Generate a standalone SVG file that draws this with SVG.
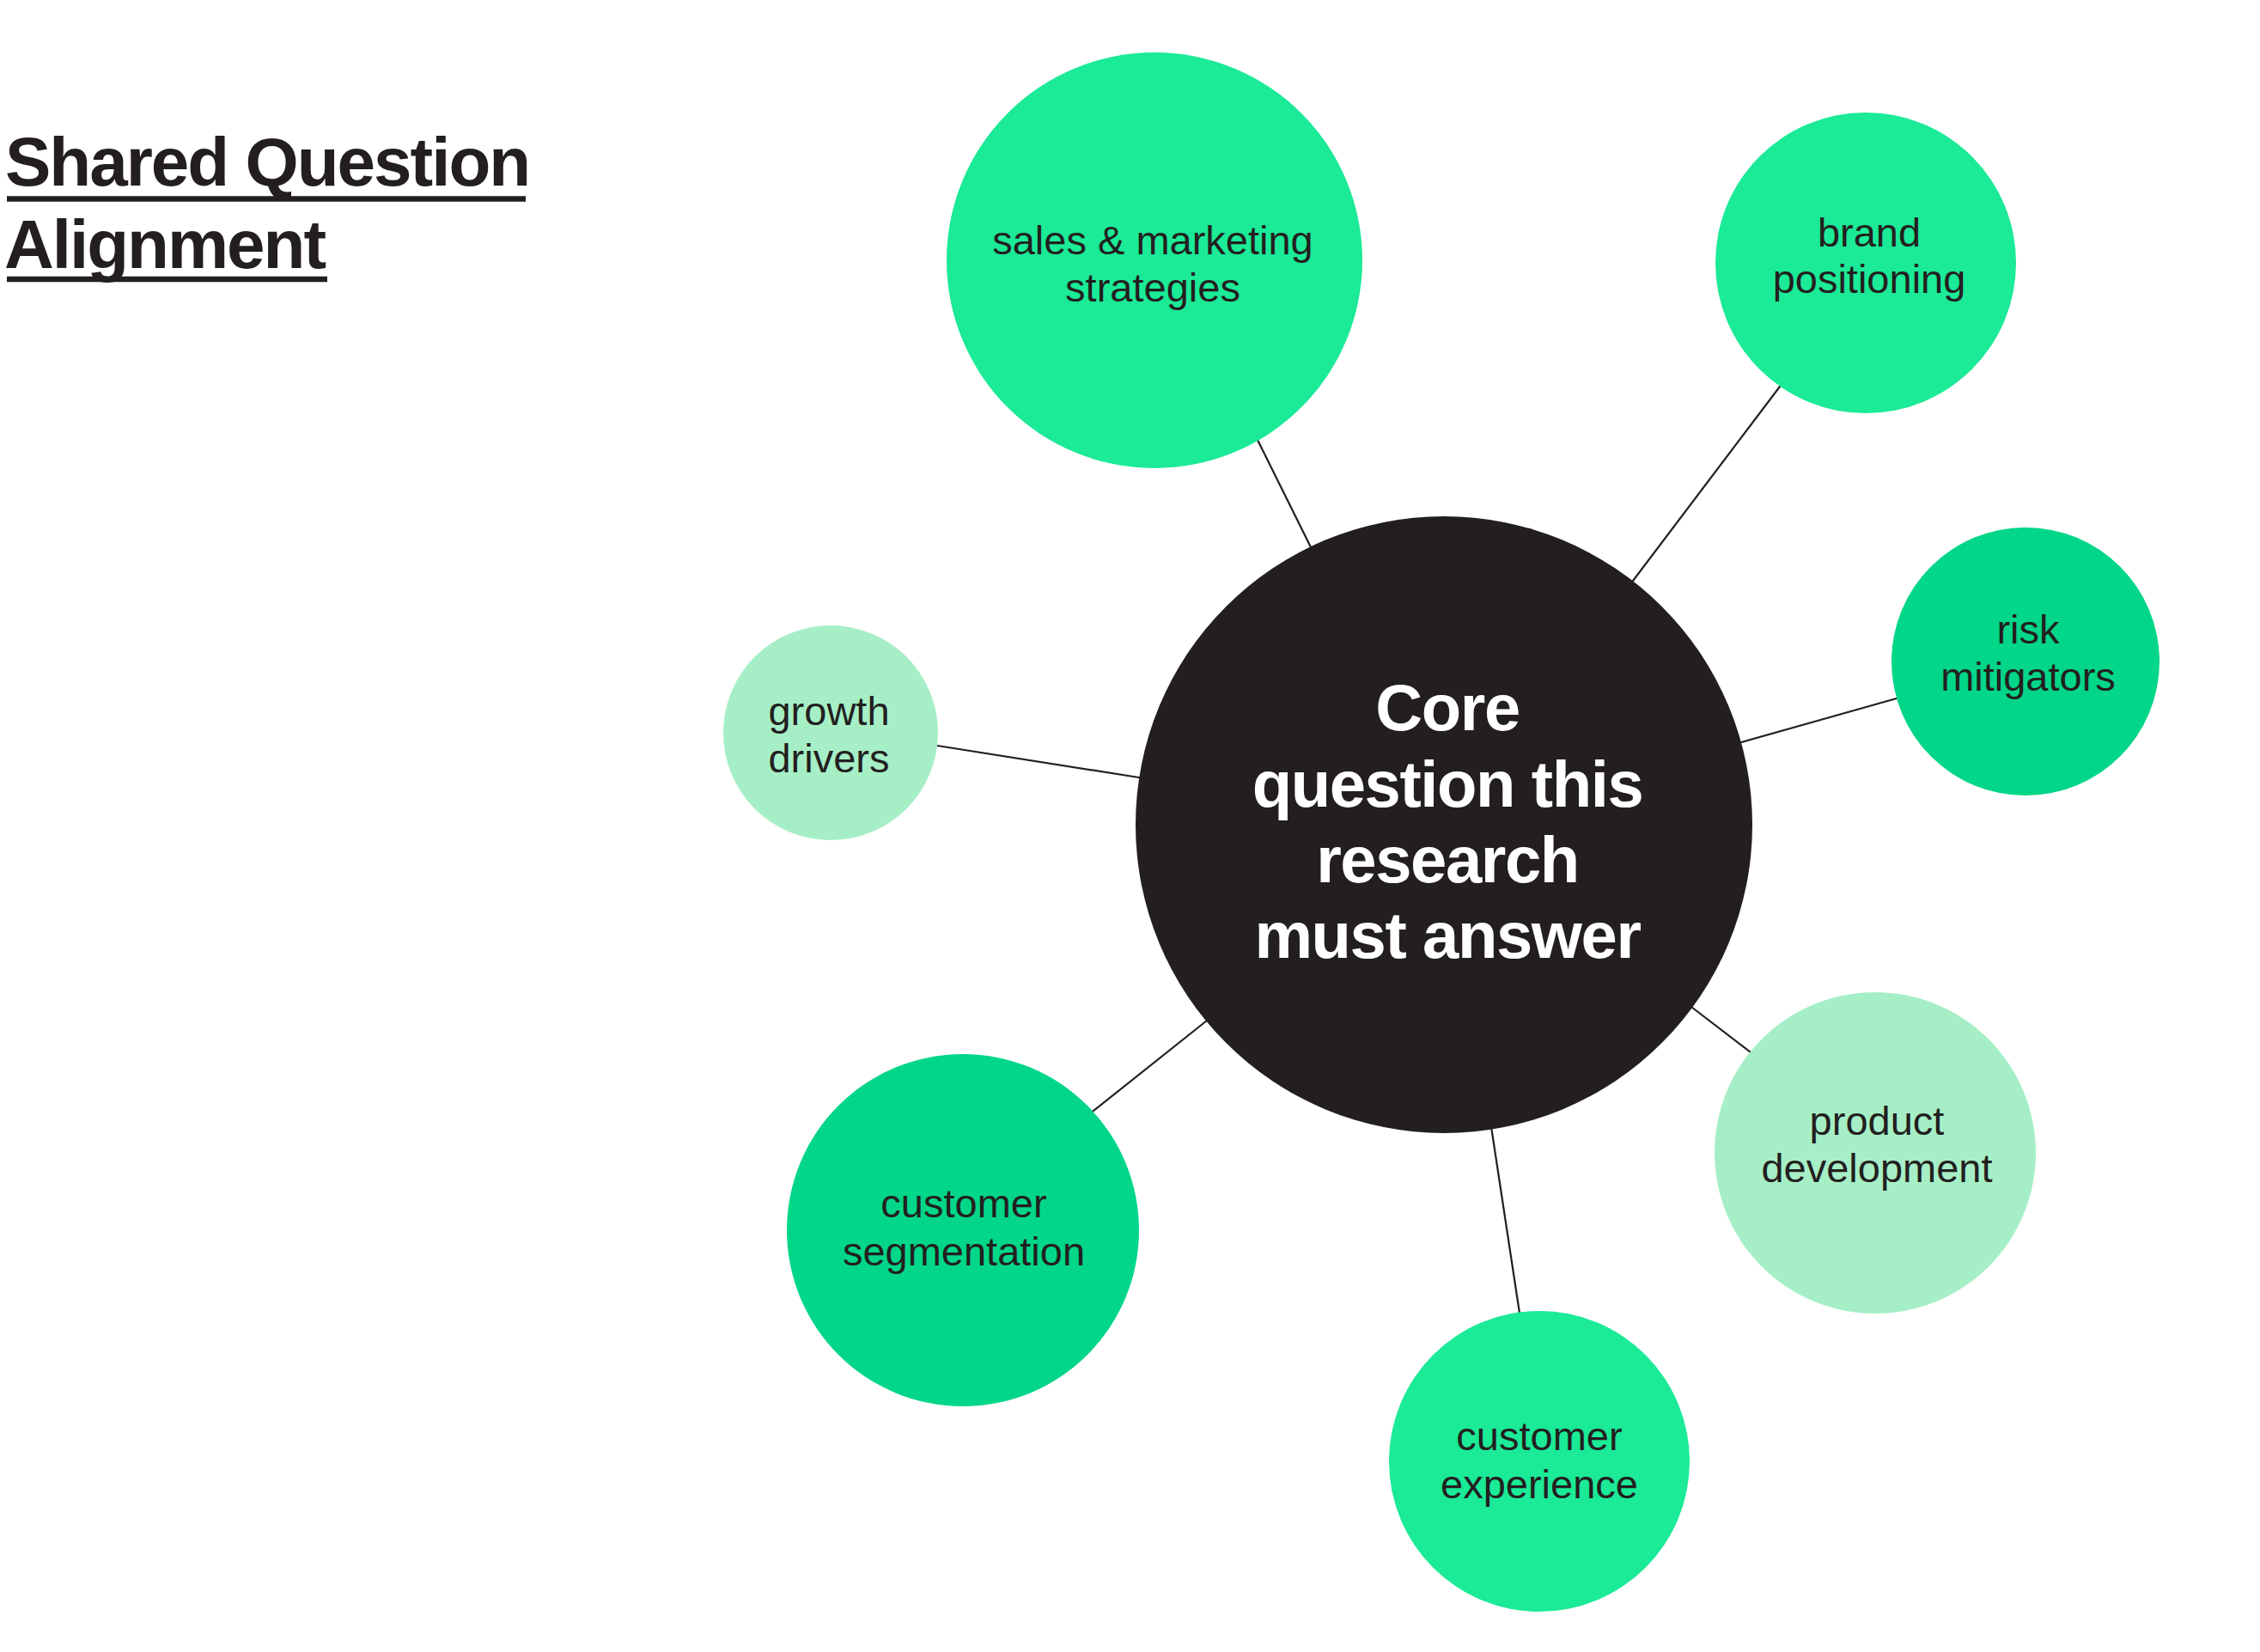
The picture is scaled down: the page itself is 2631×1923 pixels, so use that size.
<svg xmlns="http://www.w3.org/2000/svg" width="2631" height="1923" viewBox="0 0 2631 1923">
<style>
  .title { font-family: "Liberation Sans", Arial, sans-serif; font-weight: bold; font-size: 80px; fill: #231F20; letter-spacing: -2px; }
  .uline { stroke: #231F20; stroke-width: 6.5; }
  .conn { stroke: #231F20; stroke-width: 2.2; fill: none; }
  .core { fill: #231F20; }
  .bright { fill: #1BEA97; }
  .mid { fill: #02D688; }
  .light { fill: #A6EFC6; }
  .label { font-family: "Liberation Sans", Arial, sans-serif; font-size: 47px; fill: #231F20; text-anchor: middle; }
  .corelabel { font-family: "Liberation Sans", Arial, sans-serif; font-weight: bold; font-size: 76px; fill: #FFFFFF; text-anchor: middle; letter-spacing: -1.4px; }
</style>
<rect width="2631" height="1923" fill="#FFFFFF"/>

<g id="title">
  <text class="title" x="6" y="216">Shared Question</text>
  <line class="uline" x1="8" y1="231.5" x2="612" y2="231.5"/>
  <text class="title" x="5" y="312">Alignment</text>
  <line class="uline" x1="8" y1="325" x2="381" y2="325"/>
</g>

<g id="connectors">
  <line class="conn" x1="1458" y1="500" x2="1530" y2="645"/>
  <line class="conn" x1="2078" y1="442" x2="1895" y2="684"/>
  <line class="conn" x1="2020" y1="866" x2="2215" y2="811"/>
  <line class="conn" x1="1965" y1="1169" x2="2042" y2="1228"/>
  <line class="conn" x1="1735" y1="1305" x2="1770" y2="1535"/>
  <line class="conn" x1="1410" y1="1184" x2="1268" y2="1297"/>
  <line class="conn" x1="1085" y1="867" x2="1332" y2="906"/>
</g>

<g id="node-core">
  <circle class="core" cx="1681" cy="960" r="359"/>
  <text class="corelabel" x="1685" y="850">Core</text>
  <text class="corelabel" x="1685" y="939">question this</text>
  <text class="corelabel" x="1685" y="1027">research</text>
  <text class="corelabel" x="1685" y="1115">must answer</text>
</g>

<g id="node-sales">
  <circle class="bright" cx="1344" cy="303" r="242"/>
  <text class="label" x="1342" y="296">sales &amp; marketing</text>
  <text class="label" x="1342" y="351">strategies</text>
</g>

<g id="node-brand">
  <circle class="bright" cx="2172" cy="306" r="175"/>
  <text class="label" x="2176" y="287">brand</text>
  <text class="label" x="2176" y="341">positioning</text>
</g>

<g id="node-risk">
  <circle class="mid" cx="2358" cy="770" r="156"/>
  <text class="label" x="2361" y="749">risk</text>
  <text class="label" x="2361" y="804">mitigators</text>
</g>

<g id="node-product">
  <circle class="light" cx="2183" cy="1342" r="187"/>
  <text class="label" x="2185" y="1321">product</text>
  <text class="label" x="2185" y="1376">development</text>
</g>

<g id="node-experience">
  <circle class="bright" cx="1792" cy="1701" r="175"/>
  <text class="label" x="1792" y="1688">customer</text>
  <text class="label" x="1792" y="1744">experience</text>
</g>

<g id="node-segmentation">
  <circle class="mid" cx="1121" cy="1432" r="205"/>
  <text class="label" x="1122" y="1417">customer</text>
  <text class="label" x="1122" y="1473">segmentation</text>
</g>

<g id="node-growth">
  <circle class="light" cx="967" cy="853" r="125"/>
  <text class="label" x="965" y="844">growth</text>
  <text class="label" x="965" y="899">drivers</text>
</g>
</svg>
